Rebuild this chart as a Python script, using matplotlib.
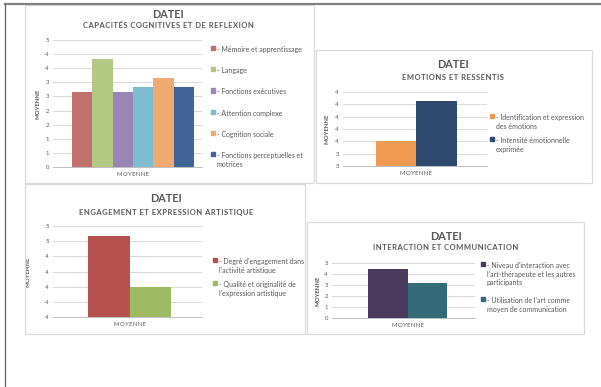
import numpy as np
import matplotlib
matplotlib.use('Agg')
import matplotlib.pyplot as plt
from matplotlib.patches import Rectangle, Patch

plt.rcParams['font.family'] = ['Lato', 'DejaVu Sans']

W, H = 601, 387
TXT = '#595959'
GRID = '#D9D9D9'

# panel 1 - capacites cognitives
cog_names = ['Mémoire et apprentissage', 'Langage', 'Fonctions exécutives',
             'Attention complexe', 'Cognition sociale',
             'Fonctions perceptuelles et\nmotrices']
cog_values = [2.67, 3.83, 2.67, 2.83, 3.17, 2.83]
cog_colors = ['#C0706D', '#B3C883', '#9A86B4', '#7EBCD1', '#EFAA72', '#3E6596']
cog_yticks = [0, 0.5, 1, 1.5, 2, 2.5, 3, 3.5, 4, 4.5]
cog_ylabels = ['0', '1', '1', '2', '2', '3', '3', '4', '4', '5']

# panel 2 - emotions
emo_names = ['Identification et expression\ndes émotions',
             'Intensité émotionnelle\nexprimée']
emo_values = [3.5, 3.83]
emo_colors = ['#EE9A52', '#2F4A6F']
emo_yticks = [3.3, 3.4, 3.5, 3.6, 3.7, 3.8, 3.9]
emo_ylabels = ['3', '3', '4', '4', '4', '4', '4']

# panel 3 - engagement
eng_names = ["Degré d'engagement dans\nl'activité artistique",
             'Qualité et originalité de\nl\'expression artistique']
eng_values = [4.67, 4.0]
eng_colors = ['#B5524F', '#9EBA62']
eng_yticks = [3.6, 3.8, 4.0, 4.2, 4.4, 4.6, 4.8]
eng_ylabels = ['4', '4', '4', '4', '4', '5', '5']

# panel 4 - interaction
int_names = ["Niveau d'interaction avec\nl'art-thérapeute et les autres\nparticipants",
             "Utilisation de l'art comme\nmoyen de communication"]
int_values = [4.5, 3.17]
int_colors = ['#4A3A5E', '#346B78']
int_yticks = [0, 1, 2, 3, 4, 5]
int_ylabels = ['0', '1', '2', '3', '4', '5']


def fx(x):
    return x / W


def fy(y):
    return 1 - y / H


def spaced(s):
    # fake letter spacing with hair spaces
    return '\u200a'.join(s)


def draw_panel(fig, box, xlim, names, values, colors, yticks, ylabels,
               title_xy, sub_y, subtitle, ylab_x, leg_xy, spacing, linesp):
    x0, y0, x1, y1 = box
    ax = fig.add_axes([fx(x0), fy(y1), fx(x1 - x0), (y1 - y0) / H])
    n = len(values)
    for i, (v, c, name) in enumerate(zip(values, colors, names)):
        ax.bar(-0.5 + (i + 0.5) / n, v, width=1 / n, color=c,
               label='- ' + name, zorder=3)
    ax.set_xlim(*xlim)
    ax.set_ylim(yticks[0], yticks[-1])
    ax.set_yticks(yticks, ylabels)
    ax.set_xticks([0], [spaced('MOYENNE')])
    ax.grid(axis='y', color=GRID, linewidth=0.7, zorder=0)
    for s in ['top', 'right', 'left']:
        ax.spines[s].set_visible(False)
    ax.spines['bottom'].set_color('#BFBFBF')
    ax.spines['bottom'].set_linewidth(0.7)
    ax.tick_params(axis='y', length=0, pad=3, labelsize=4.3, labelcolor=TXT)
    ax.tick_params(axis='x', length=0, pad=3.5, labelsize=4.3, labelcolor=TXT)
    ax.set_ylabel('MOYENNE', fontsize=4.3, fontweight='bold', color=TXT)
    ax.yaxis.set_label_coords((ylab_x - x0) / (x1 - x0), 0.5)

    fig.text(fx(title_xy[0]), fy(title_xy[1]), 'DATEI', fontsize=7.8,
             fontweight='bold', color=TXT, ha='center', va='center')
    fig.text(fx(title_xy[0]), fy(sub_y), spaced(subtitle), fontsize=5.5,
             fontweight='bold', color=TXT, ha='center', va='center')

    handles = [Patch(color=c) for c in colors]
    leg = ax.legend(handles, ['- ' + nm for nm in names], loc='upper left',
                    bbox_to_anchor=(fx(leg_xy[0]), fy(leg_xy[1])),
                    bbox_transform=fig.transFigure, frameon=False,
                    fontsize=5.0, handlelength=0.55, handleheight=0.55,
                    handletextpad=0.3, labelspacing=spacing,
                    borderpad=0, borderaxespad=0)
    for t in leg.get_texts():
        t.set_color(TXT)
        t.set_linespacing(linesp)
    # put the square next to the first line of multi-line entries
    try:
        for col in leg._legend_handle_box.get_children():
            for row in col.get_children():
                row.align = 'top'
    except AttributeError:
        pass
    return ax


fig = plt.figure(figsize=(W / 100, H / 100), dpi=100)

# panel frames
for (a, b, c, d) in [(25, 5, 314, 183), (316, 50, 592, 183),
                     (25, 184, 305, 334), (307, 222, 584, 334)]:
    fig.add_artist(Rectangle((fx(a), fy(d)), fx(c - a), (d - b) / H,
                             transform=fig.transFigure, fill=False,
                             edgecolor='#DADADA', linewidth=0.9))
# outer page border
fig.add_artist(plt.Line2D([fx(5), 1], [fy(4), fy(4)], color='#808080',
                          linewidth=1.6, transform=fig.transFigure))
fig.add_artist(plt.Line2D([fx(5), fx(5)], [fy(4), 0], color='#606060',
                          linewidth=0.9, transform=fig.transFigure))

draw_panel(fig, (53, 40, 202, 167), (-0.656, 0.566), cog_names, cog_values,
           cog_colors, cog_yticks, cog_ylabels, (168, 14), 26,
           'CAPACITÉS COGNITIVES ET DE REFLEXION', 40, (211, 46), 2.05, 1.3)
draw_panel(fig, (343, 92, 487, 166), (-0.907, 0.870), emo_names, emo_values,
           emo_colors, emo_yticks, emo_ylabels, (453, 65), 78,
           'EMOTIONS ET RESSENTIS', 329, (490, 114), 0.95, 1.35)
draw_panel(fig, (53, 226, 202, 317), (-0.922, 0.873), eng_names, eng_values,
           eng_colors, eng_yticks, eng_ylabels, (166, 199), 212,
           'ENGAGEMENT ET EXPRESSION ARTISTIQUE', 31, (213, 258), 0.95, 1.35)
draw_panel(fig, (332, 263, 475, 318), (-0.956, 0.854), int_names, int_values,
           int_colors, int_yticks, int_ylabels, (446, 236), 248,
           'INTERACTION ET COMMUNICATION', 321, (481, 262), 1.6, 1.25)

fig.savefig('out.png', dpi=100, facecolor='white')
